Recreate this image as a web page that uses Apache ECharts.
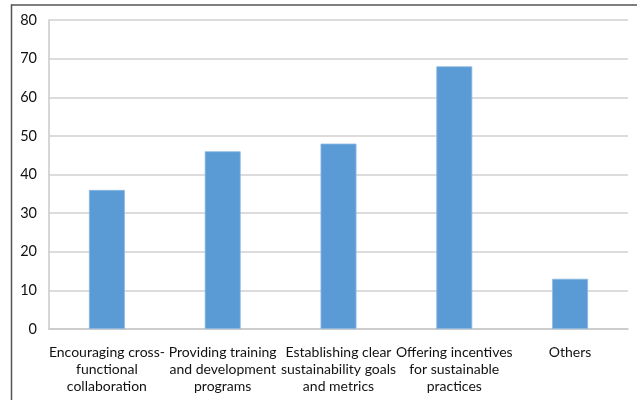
<!DOCTYPE html>
<html>
<head>
<meta charset="utf-8">
<style>
  html, body { margin: 0; padding: 0; background: #fff; }
  #chart { width: 637px; height: 400px; }
</style>
<script src="https://cdn.jsdelivr.net/npm/echarts@6/dist/echarts.min.js"></script>
</head>
<body>
<div id="chart"></div>
<script>
// Approaches to fostering sustainability, by count of responses
const categories = [
  'Encouraging cross-\nfunctional\ncollaboration',
  'Providing training\nand development\nprograms',
  'Establishing clear\nsustainability goals\nand metrics',
  'Offering incentives\nfor sustainable\npractices',
  'Others'
];
const values = [36, 46, 48, 68, 13];
const yTicks = { min: 0, max: 80, interval: 10 };

const chart = echarts.init(document.getElementById('chart'), null, { renderer: 'canvas' });
const font = 'Lato, "Open Sans", sans-serif';

chart.setOption({
  animation: false,
  backgroundColor: '#fff',
  grid: { left: 49, right: 9, top: 20, bottom: 71, containLabel: false },
  xAxis: {
    type: 'category',
    data: categories,
    axisLine: { show: true, lineStyle: { color: '#c8c8c8', width: 1.5 } },
    axisTick: { show: false },
    axisLabel: {
      interval: 0,
      color: '#111',
      fontFamily: font,
      fontSize: 14,
      lineHeight: 17,
      margin: 15
    }
  },
  yAxis: {
    type: 'value',
    min: yTicks.min,
    max: yTicks.max,
    interval: yTicks.interval,
    axisLine: { show: true, lineStyle: { color: '#c8c8c8', width: 1.5 } },
    axisTick: { show: false },
    splitLine: { lineStyle: { color: '#d0d0d0', width: 1.5 } },
    axisLabel: { color: '#111', fontFamily: font, fontSize: 14.5, margin: 12 }
  },
  series: [{
    type: 'bar',
    data: values,
    barWidth: '31%',
    itemStyle: { color: '#5b9bd5', borderColor: '#8ab8e3', borderWidth: 0.8 }
  }],
  graphic: [
    { type: 'line', shape: { x1: 11, y1: 5, x2: 637, y2: 5 },
      style: { stroke: '#555', lineWidth: 1.5 } },
    { type: 'line', shape: { x1: 11.5, y1: 4.5, x2: 11.5, y2: 400 },
      style: { stroke: '#555', lineWidth: 1.5 } }
  ]
});
</script>
</body>
</html>
